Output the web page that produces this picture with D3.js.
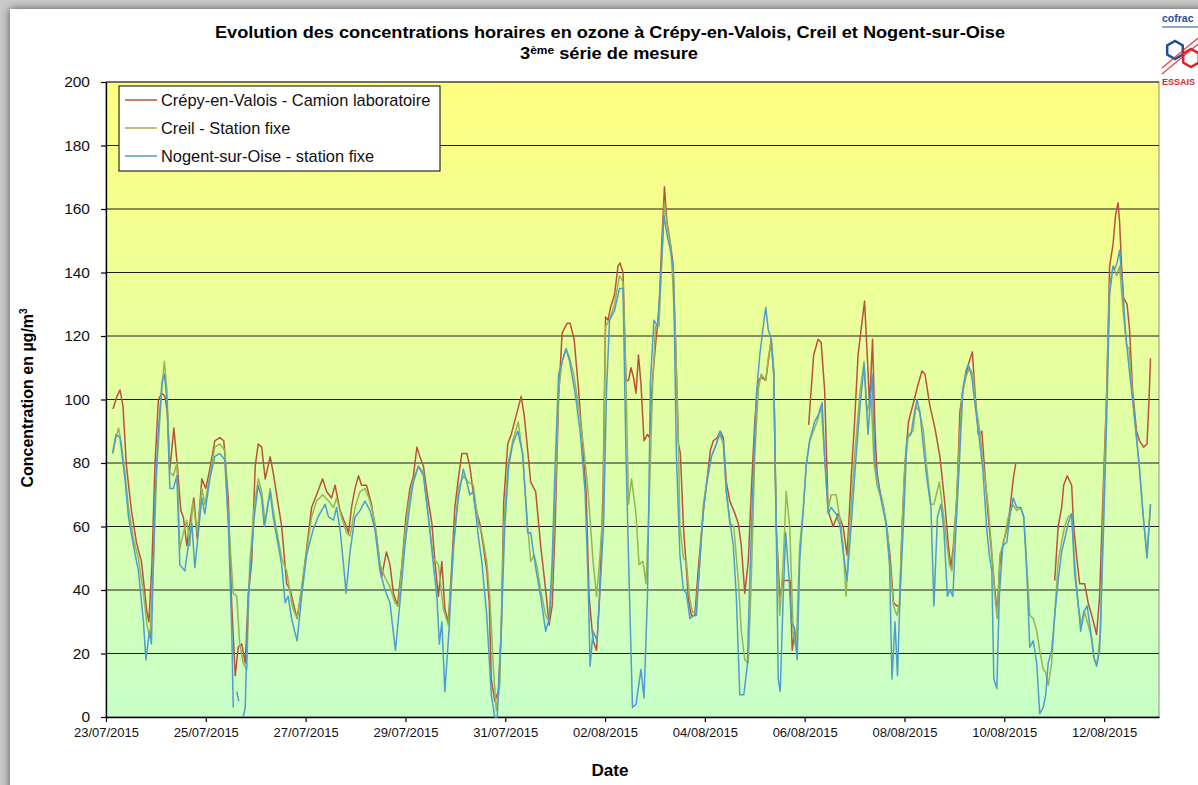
<!DOCTYPE html>
<html>
<head>
<meta charset="utf-8">
<script src="https://cdn.jsdelivr.net/npm/d3@7"></script>
<style>
  body { margin: 0; background: #ffffff; }
  text { font-family: Arial, "Liberation Sans", sans-serif; }
</style>
</head>
<body>
<script>

// Hourly ozone concentrations, 3rd measurement series
// each point is [days since 23/07/2015 00:00, value in µg/m3], null = missing

const xTickLabels = ["23/07/2015","25/07/2015","27/07/2015","29/07/2015","31/07/2015",
  "02/08/2015","04/08/2015","06/08/2015","08/08/2015","10/08/2015","12/08/2015"];
const yTicks = [0, 20, 40, 60, 80, 100, 120, 140, 160, 180, 200];

const seriesNames = ["Crépy-en-Valois - Camion laboratoire", "Creil - Station fixe", "Nogent-sur-Oise - station fixe"];

const crepy = [
  [0.14,97],[0.22,101],[0.28,103],[0.34,98],[0.41,79],[0.51,65],[0.61,55],[0.71,49],[0.82,33],[0.86,30],
  [0.92,48],[0.98,79],[1.05,100],[1.12,102],[1.18,101],[1.23,96],[1.28,78],[1.36,91],[1.43,79],[1.5,65],
  [1.55,63],[1.62,54],[1.67,60],[1.76,69],[1.83,56],[1.92,75],[2.0,72],[2.08,78],[2.18,87],[2.28,88],
  [2.36,87],[2.45,69],[2.52,35],[2.59,13],[2.65,22],[2.72,23],[2.79,17],[2.85,38],[2.92,49],[2.99,79],
  [3.05,86],[3.12,85],[3.19,75],[3.29,82],[3.35,77],[3.52,60],[3.62,42],[3.69,40],[3.75,36],[3.83,31],
  [3.92,40],[4.02,53],[4.12,66],[4.22,70],[4.34,75],[4.42,71],[4.52,69],[4.59,73],[4.69,65],[4.79,61],
  [4.86,58],[4.92,66],[4.99,72],[5.06,76],[5.12,73],[5.22,73],[5.32,67],[5.42,57],[5.52,44],[5.62,52],
  [5.69,48],[5.76,39],[5.84,35],[5.93,48],[6.01,63],[6.09,72],[6.16,76],[6.23,85],[6.29,82],[6.36,79],
  [6.43,71],[6.53,61],[6.59,49],[6.66,38],[6.73,49],[6.79,34],[6.86,30],[6.93,48],[6.99,66],[7.06,75],
  [7.13,83],[7.23,83],[7.29,79],[7.39,67],[7.49,61],[7.56,54],[7.63,46],[7.68,36],[7.72,12],[7.79,5],
  [7.86,8],[7.92,27],[7.97,68],[8.05,86],[8.12,89],[8.22,95],[8.32,101],[8.38,95],[8.45,84],[8.51,74],
  [8.61,71],[8.71,54],[8.81,40],[8.88,29],[8.94,35],[9.0,60],[9.07,101],[9.14,121],[9.24,124],[9.3,124],
  [9.38,119],[9.47,103],[9.55,86],[9.62,71],[9.68,38],[9.76,24],[9.83,21],[9.89,38],[9.96,71],[10.01,126],
  [10.06,125],[10.11,129],[10.19,133],[10.26,142],[10.3,143],[10.36,140],[10.42,106],[10.47,106],[10.52,110],[10.57,107],
  [10.62,102],[10.67,114],[10.72,105],[10.78,87],[10.85,89],[10.89,88],[10.95,106],[11.01,117],[11.08,128],[11.13,147],
  [11.19,167],[11.24,156],[11.31,149],[11.36,143],[11.41,120],[11.47,86],[11.51,83],[11.57,60],[11.62,49],[11.67,37],
  [11.73,32],[11.8,32],[11.87,47],[11.97,65],[12.03,73],[12.11,84],[12.17,87],[12.25,88],[12.31,90],[12.37,88],
  [12.43,74],[12.5,68],[12.58,65],[12.67,61],[12.73,54],[12.8,39],[12.87,49],[12.93,71],[13.0,93],[13.07,106],
  [13.13,107],[13.22,106],[13.27,112],[13.33,119],[13.38,109],[13.43,60],[13.5,38],[13.57,43],[13.63,43],[13.71,43],
  [13.75,21],[13.8,27],[13.82,null],[14.08,92],[14.18,114],[14.27,119],[14.33,118],[14.4,103],[14.47,65],[14.57,60],
  [14.67,64],[14.77,60],[14.85,51],[14.93,75],[15.0,93],[15.07,114],[15.13,122],[15.2,131],[15.26,112],[15.3,98],
  [15.36,119],[15.41,90],[15.45,77],[15.51,71],[15.58,66],[15.65,59],[15.71,51],[15.78,36],[15.85,35],[15.9,35],
  [15.95,59],[16.01,80],[16.08,93],[16.18,99],[16.26,104],[16.35,109],[16.41,108],[16.51,98],[16.61,91],[16.71,82],
  [16.81,67],[16.88,54],[16.93,47],[16.98,54],[17.05,69],[17.11,96],[17.18,104],[17.28,111],[17.36,115],[17.41,103],
  [17.48,89],[17.55,90],[17.61,77],[17.68,63],[17.75,51],[17.81,40],[17.86,33],[17.91,48],[17.98,55],[18.05,59],
  [18.11,65],[18.18,75],[18.23,80],[18.25,null],[19.01,43],[19.08,60],[19.15,66],[19.19,73],[19.26,76],[19.35,73],
  [19.39,60],[19.46,49],[19.51,42],[19.61,42],[19.68,36],[19.77,31],[19.85,26],[19.91,38],[19.98,71],[20.05,101],
  [20.11,142],[20.18,149],[20.23,158],[20.28,162],[20.31,156],[20.35,142],[20.39,132],[20.46,130],[20.51,122],[20.57,103],
  [20.65,90],[20.71,87],[20.79,85],[20.86,86],[20.9,100],[20.93,113]
];

const creil = [
  [0.14,83],[0.2,88],[0.25,91],[0.3,87],[0.38,77],[0.45,66],[0.55,56],[0.65,50],[0.75,39],[0.82,29],
  [0.88,25],[0.95,48],[1.02,79],[1.12,104],[1.17,112],[1.22,103],[1.28,77],[1.35,76],[1.42,80],[1.48,53],
  [1.55,58],[1.62,62],[1.68,54],[1.74,68],[1.83,58],[1.92,72],[1.98,67],[2.08,76],[2.18,85],[2.28,86],
  [2.38,84],[2.45,63],[2.55,39],[2.62,38],[2.68,23],[2.75,17],[2.82,15],[2.88,48],[2.97,66],[3.05,75],
  [3.12,71],[3.19,61],[3.29,72],[3.35,65],[3.52,50],[3.62,46],[3.72,36],[3.75,34],[3.83,31],[3.92,41],
  [4.02,52],[4.12,63],[4.22,68],[4.34,70],[4.46,68],[4.56,66],[4.62,69],[4.72,63],[4.82,58],[4.89,57],
  [4.99,66],[5.09,71],[5.19,72],[5.29,68],[5.39,61],[5.49,48],[5.59,44],[5.69,41],[5.79,36],[5.86,35],
  [5.96,53],[6.06,67],[6.16,75],[6.26,79],[6.36,77],[6.46,63],[6.56,50],[6.66,48],[6.76,34],[6.86,29],
  [6.96,52],[7.06,72],[7.16,76],[7.26,74],[7.36,73],[7.46,61],[7.53,58],[7.63,49],[7.69,38],[7.76,16],
  [7.82,2],[7.89,10],[7.97,60],[8.05,79],[8.15,87],[8.26,93],[8.35,82],[8.45,60],[8.51,49],[8.58,51],
  [8.64,47],[8.71,40],[8.81,32],[8.88,30],[8.94,43],[9.03,82],[9.07,103],[9.14,112],[9.22,116],[9.29,113],
  [9.37,108],[9.47,98],[9.57,85],[9.66,71],[9.76,49],[9.83,38],[9.89,49],[9.96,65],[10.01,123],[10.09,125],
  [10.19,130],[10.29,139],[10.36,137],[10.42,106],[10.47,67],[10.53,75],[10.62,64],[10.68,48],[10.76,49],[10.82,42],
  [10.88,65],[10.95,103],[11.01,123],[11.08,123],[11.13,142],[11.19,162],[11.26,153],[11.32,148],[11.41,120],[11.47,86],
  [11.5,60],[11.57,50],[11.63,49],[11.69,38],[11.75,33],[11.82,33],[11.89,47],[11.97,67],[12.03,73],[12.13,82],
  [12.23,86],[12.3,89],[12.37,86],[12.43,71],[12.5,61],[12.58,60],[12.67,43],[12.73,27],[12.8,18],[12.87,17],
  [12.93,43],[13.0,82],[13.07,103],[13.13,108],[13.22,106],[13.27,113],[13.33,118],[13.38,108],[13.43,60],[13.5,32],
  [13.57,49],[13.63,71],[13.7,60],[13.77,27],[13.83,21],[13.9,54],[13.97,65],[14.03,79],[14.1,87],[14.2,91],
  [14.27,94],[14.33,98],[14.4,82],[14.47,65],[14.53,70],[14.63,70],[14.7,63],[14.77,54],[14.83,38],[14.9,60],
  [15.0,82],[15.1,101],[15.19,112],[15.25,96],[15.33,101],[15.39,80],[15.45,73],[15.51,70],[15.58,66],[15.65,60],
  [15.71,48],[15.78,35],[15.85,32],[15.9,36],[15.95,59],[16.01,80],[16.08,89],[16.17,90],[16.23,98],[16.3,96],
  [16.38,90],[16.45,78],[16.53,67],[16.59,67],[16.7,74],[16.77,65],[16.83,57],[16.9,48],[16.95,46],[17.01,59],
  [17.08,80],[17.15,101],[17.23,107],[17.3,110],[17.37,108],[17.43,98],[17.51,90],[17.59,78],[17.68,66],[17.77,48],
  [17.81,38],[17.86,31],[17.91,51],[17.99,55],[18.08,63],[18.17,67],[18.25,65],[18.33,66],[18.39,63],[18.45,48],
  [18.51,32],[18.58,31],[18.65,27],[18.71,21],[18.78,15],[18.83,14],[18.88,10],[18.95,17],[19.01,32],[19.08,49],
  [19.15,55],[19.21,60],[19.28,63],[19.35,64],[19.41,49],[19.48,35],[19.55,29],[19.61,33],[19.68,29],[19.75,25],
  [19.81,18],[19.86,17],[19.93,27],[19.99,71],[20.05,101],[20.11,136],[20.18,142],[20.25,139],[20.31,142],[20.38,128],
  [20.45,117],[20.5,116],[20.57,101],[20.65,88],[20.71,78],[20.78,64],[20.86,51],[20.93,67]
];

const nogent = [
  [0.13,83],[0.2,89],[0.28,88],[0.38,75],[0.45,63],[0.55,54],[0.65,46],[0.75,30],[0.8,18],[0.87,27],
  [0.91,23],[0.98,69],[1.05,90],[1.12,105],[1.17,108],[1.22,100],[1.28,72],[1.35,72],[1.42,76],[1.48,48],
  [1.58,46],[1.65,54],[1.72,61],[1.78,47],[1.85,58],[1.92,69],[1.98,64],[2.08,75],[2.18,82],[2.28,83],
  [2.38,81],[2.45,61],[2.52,27],[2.55,3],[2.57,null],[2.62,8],[2.66,5],[2.68,null],[2.75,0],[2.79,3],
  [2.85,38],[2.97,63],[3.05,73],[3.12,69],[3.17,60],[3.29,71],[3.35,63],[3.52,48],[3.59,36],[3.65,38],
  [3.72,31],[3.78,27],[3.83,24],[3.92,38],[4.02,51],[4.15,59],[4.25,63],[4.32,65],[4.39,67],[4.46,63],
  [4.56,62],[4.62,66],[4.69,59],[4.76,48],[4.81,39],[4.89,52],[4.99,63],[5.09,65],[5.19,68],[5.29,65],
  [5.39,59],[5.49,46],[5.59,40],[5.69,36],[5.74,29],[5.8,21],[5.89,36],[5.99,54],[6.09,67],[6.16,74],
  [6.26,79],[6.36,76],[6.46,63],[6.56,48],[6.63,38],[6.68,23],[6.73,30],[6.79,8],[6.88,29],[6.96,54],
  [7.06,69],[7.16,78],[7.23,74],[7.29,70],[7.36,71],[7.46,57],[7.53,49],[7.63,32],[7.72,7],[7.79,0],
  [7.84,0],[7.92,27],[7.99,60],[8.07,79],[8.15,86],[8.25,90],[8.35,83],[8.45,58],[8.51,58],[8.61,47],
  [8.71,38],[8.81,27],[8.88,31],[8.94,49],[9.0,79],[9.07,108],[9.16,113],[9.22,116],[9.29,112],[9.41,101],
  [9.5,90],[9.6,71],[9.66,43],[9.7,16],[9.76,27],[9.84,24],[9.91,43],[9.97,60],[10.03,103],[10.09,125],
  [10.19,128],[10.29,135],[10.36,135],[10.42,82],[10.49,38],[10.55,3],[10.62,4],[10.72,15],[10.78,6],[10.85,38],
  [10.91,106],[10.98,125],[11.05,123],[11.11,136],[11.18,158],[11.24,152],[11.31,147],[11.37,141],[11.43,82],[11.5,51],
  [11.57,40],[11.63,39],[11.7,31],[11.77,32],[11.83,32],[11.9,49],[11.97,65],[12.03,73],[12.13,82],[12.23,86],
  [12.3,90],[12.37,87],[12.43,71],[12.5,62],[12.57,54],[12.63,38],[12.7,7],[12.78,7],[12.85,16],[12.9,43],
  [12.97,76],[13.03,101],[13.1,114],[13.17,123],[13.22,129],[13.27,122],[13.33,119],[13.38,108],[13.43,60],[13.47,12],
  [13.51,8],[13.57,38],[13.62,58],[13.69,43],[13.73,30],[13.8,28],[13.85,18],[13.9,49],[13.97,65],[14.03,79],
  [14.1,87],[14.2,93],[14.27,95],[14.35,99],[14.4,82],[14.47,64],[14.53,66],[14.63,64],[14.71,60],[14.78,51],
  [14.85,43],[14.93,60],[15.03,82],[15.11,98],[15.19,111],[15.27,89],[15.35,108],[15.41,80],[15.48,73],[15.55,67],
  [15.63,61],[15.7,48],[15.75,12],[15.81,30],[15.86,13],[15.91,38],[15.98,61],[16.05,88],[16.13,89],[16.19,95],
  [16.25,100],[16.31,96],[16.38,85],[16.45,75],[16.53,66],[16.59,35],[16.66,63],[16.73,67],[16.79,59],[16.86,38],
  [16.91,40],[16.97,38],[17.03,59],[17.1,80],[17.17,103],[17.23,109],[17.28,111],[17.35,107],[17.41,99],[17.48,90],
  [17.57,78],[17.65,59],[17.7,51],[17.75,46],[17.79,12],[17.85,9],[17.9,38],[17.97,54],[18.05,55],[18.11,63],
  [18.18,69],[18.25,66],[18.33,66],[18.39,63],[18.45,46],[18.51,22],[18.58,24],[18.65,17],[18.71,1],[18.78,3],
  [18.83,7],[18.88,17],[18.95,21],[19.01,32],[19.08,43],[19.15,52],[19.21,56],[19.28,61],[19.35,64],[19.41,45],
  [19.48,36],[19.53,27],[19.59,33],[19.66,35],[19.73,27],[19.79,19],[19.85,16],[19.91,21],[19.99,60],[20.05,93],
  [20.11,133],[20.18,142],[20.21,141],[20.26,143],[20.31,147],[20.37,136],[20.43,121],[20.5,110],[20.57,100],[20.65,88],
  [20.71,78],[20.78,64],[20.86,50],[20.93,67]
];

const seriesData = [crepy, creil, nogent];
const seriesColors = ["#b9533c", "#97b552", "#4f9ccf"];

// Set dimensions and margins for the plot
const width = 1198;
const height = 785;
const margin = {left: 106, right: 39, top: 82, bottom: 68};

const svg = d3.select("body")
  .append("svg")
  .attr("width", width)
  .attr("height", height);

const defs = svg.append("defs");

// plot background goes from yellow at the top to pale green at the bottom
const grad = defs.append("linearGradient")
  .attr("id", "plotBg")
  .attr("x1", 0).attr("y1", 0).attr("x2", 0).attr("y2", 1);
grad.append("stop").attr("offset", "0%").attr("stop-color", "#ffff80");
grad.append("stop").attr("offset", "100%").attr("stop-color", "#c8ffc8");

// soft shadow round the chart sheet
const shadow = defs.append("filter").attr("id", "sheetShadow")
  .attr("x", "-5%").attr("y", "-5%").attr("width", "110%").attr("height", "110%");
shadow.append("feDropShadow")
  .attr("dx", 0).attr("dy", 0).attr("stdDeviation", 4)
  .attr("flood-color", "#000").attr("flood-opacity", 0.6);

svg.append("rect")
  .attr("width", width).attr("height", height)
  .attr("fill", "#c9c9c9");

svg.append("rect")
  .attr("x", 10).attr("y", 9)
  .attr("width", width + 20).attr("height", height + 20)
  .attr("fill", "#ffffff")
  .attr("filter", "url(#sheetShadow)");

/*

  Scales

*/

const parseDate = d3.timeParse("%d/%m/%Y");
const startDate = parseDate(xTickLabels[0]);
const dayToDate = d => new Date(startDate.getTime() + d * 864e5);

const xScale = d3.scaleTime()
  .domain([startDate, dayToDate(21.1)])
  .range([margin.left, width - margin.right]);

const yScale = d3.scaleLinear()
  .domain([0, 200])
  .range([height - margin.bottom, margin.top]);

// plot area
svg.append("rect")
  .attr("x", margin.left)
  .attr("y", margin.top)
  .attr("width", width - margin.left - margin.right)
  .attr("height", height - margin.top - margin.bottom)
  .attr("fill", "url(#plotBg)")
  .attr("stroke", "#8c8c8c")
  .attr("stroke-width", 1);

// horizontal gridlines
svg.append("g")
  .selectAll("line")
  .data(yTicks.filter(v => v > 0))
  .enter()
  .append("line")
    .attr("x1", margin.left)
    .attr("x2", width - margin.right)
    .attr("y1", d => yScale(d))
    .attr("y2", d => yScale(d))
    .attr("stroke", "#1e1e1e")
    .attr("stroke-width", 1.1);

/*

  Axes

*/

const yAxis = svg.append("g")
  .attr("transform", `translate(${margin.left}, 0)`)
  .call(d3.axisLeft(yScale).tickValues(yTicks).tickSize(5).tickSizeOuter(0).tickPadding(11));

const xAxis = svg.append("g")
  .attr("transform", `translate(0, ${height - margin.bottom})`)
  .call(d3.axisBottom(xScale)
    .tickValues(xTickLabels.map(parseDate))
    .tickFormat(d3.timeFormat("%d/%m/%Y"))
    .tickSize(5).tickSizeOuter(0).tickPadding(6));

yAxis.selectAll("text").attr("font-size", "15.5px").attr("fill", "#111").attr("font-family", "Arial, 'Liberation Sans'");
xAxis.selectAll("text").attr("font-size", "13px").attr("fill", "#111").attr("font-family", "Arial, 'Liberation Sans'");
svg.selectAll(".domain").attr("stroke", "#000").attr("stroke-width", 1.3);
svg.selectAll(".tick line").attr("stroke", "#000").attr("stroke-width", 1.2);

/*

  Lines

*/

const line = d3.line()
  .defined(d => d[1] !== null)
  .x(d => xScale(dayToDate(d[0])))
  .y(d => yScale(d[1]));

svg.append("g")
  .selectAll("path")
  .data(seriesData)
  .enter()
  .append("path")
    .attr("d", d => line(d))
    .attr("fill", "none")
    .attr("stroke", (d, i) => seriesColors[i])
    .attr("stroke-width", 1.5)
    .attr("stroke-linejoin", "round");

/*

  Legend

*/

const legend = svg.append("g").attr("transform", "translate(119, 86)");

legend.append("rect")
  .attr("width", 321).attr("height", 85)
  .attr("fill", "#ffffff")
  .attr("stroke", "#000")
  .attr("stroke-width", 1);

const legendItems = legend.selectAll(".item")
  .data(seriesNames)
  .enter()
  .append("g")
    .attr("class", "item")
    .attr("transform", (d, i) => `translate(0, ${14 + i * 28})`);

legendItems.append("line")
  .attr("x1", 6).attr("x2", 38)
  .attr("stroke", (d, i) => seriesColors[i])
  .attr("stroke-width", 1.5);

legendItems.append("text")
  .attr("x", 42)
  .attr("dy", "0.36em")
  .attr("font-size", "16.4px")
  .attr("fill", "#111")
  .text(d => d);

/*

  Titles

*/

svg.append("text")
  .attr("x", 610).attr("y", 38)
  .attr("text-anchor", "middle")
  .attr("font-size", "16px")
  .attr("font-weight", "bold")
  .attr("textLength", 790)
  .attr("lengthAdjust", "spacingAndGlyphs")
  .text("Evolution des concentrations horaires en ozone à Crépy-en-Valois, Creil et Nogent-sur-Oise");

const sub = svg.append("text")
  .attr("x", 609).attr("y", 59)
  .attr("text-anchor", "middle")
  .attr("font-size", "16px")
  .attr("font-weight", "bold")
  .attr("textLength", 178)
  .attr("lengthAdjust", "spacingAndGlyphs");
sub.append("tspan").text("3");
sub.append("tspan").attr("font-size", "10.5px").attr("dy", "-5").text("ème");
sub.append("tspan").attr("dy", "5").text(" série de mesure");

const yTitle = svg.append("text")
  .attr("transform", "translate(33, 398) rotate(-90)")
  .attr("text-anchor", "middle")
  .attr("font-size", "16px")
  .attr("font-weight", "bold");
yTitle.append("tspan").text("Concentration en µg/m");
yTitle.append("tspan").attr("font-size", "10px").attr("dy", "-6").text("3");

svg.append("text")
  .attr("x", 610).attr("y", 776)
  .attr("text-anchor", "middle")
  .attr("font-size", "16px")
  .attr("font-weight", "bold")
  .attr("textLength", 37)
  .attr("lengthAdjust", "spacingAndGlyphs")
  .text("Date");

/*

  Logo (sits against the right edge)

*/

const logo = svg.append("g").attr("transform", "translate(1162, 10)");
logo.append("text")
  .attr("x", 0).attr("y", 12)
  .attr("font-size", "10.5px").attr("font-weight", "bold")
  .attr("fill", "#1d4f9c")
  .text("cofrac");
logo.append("line").attr("x1", 0).attr("x2", 36).attr("y1", 17).attr("y2", 17)
  .attr("stroke", "#1d4f9c").attr("stroke-width", 1.2);
const hex = d3.range(6).map(k => [9 * Math.cos(Math.PI / 3 * k + Math.PI / 6), 9 * Math.sin(Math.PI / 3 * k + Math.PI / 6)]);
logo.append("path")
  .attr("transform", "translate(13, 40)")
  .attr("d", "M" + hex.join("L") + "Z")
  .attr("fill", "none").attr("stroke", "#1d4f9c").attr("stroke-width", 2.5);
logo.append("path")
  .attr("transform", "translate(29, 48)")
  .attr("d", "M" + hex.join("L") + "Z")
  .attr("fill", "none").attr("stroke", "#d9272e").attr("stroke-width", 2.5);
logo.append("path")
  .attr("d", "M0,58 L36,28 M0,64 L36,34")
  .attr("stroke", "#d9272e").attr("stroke-width", 1.5).attr("opacity", 0.8);
logo.append("text")
  .attr("x", 0).attr("y", 75)
  .attr("font-size", "9px").attr("font-weight", "bold")
  .attr("fill", "#d9272e")
  .text("ESSAIS");

</script>
</body>
</html>
